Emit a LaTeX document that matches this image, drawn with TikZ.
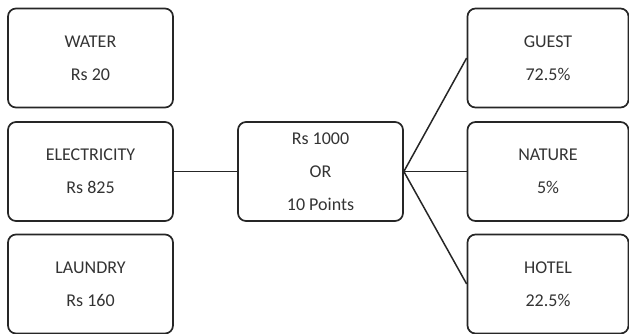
\documentclass[tikz,border=0pt]{standalone}
\usepackage{fontspec}
\setmainfont{Carlito}
\begin{document}
\begin{tikzpicture}[x=1pt,y=-1pt,
  box/.style={draw=black!85,line width=1.7pt,rounded corners=8pt,minimum width=165pt,minimum height=99pt,align=center,inner sep=0pt,font=\fontsize{18}{33}\selectfont,text=black!80},
  link/.style={draw=black!85,line width=1.5pt}]
\useasboundingbox (0,0) rectangle (629,333);
\node[box] (water) at (90.5,58) {WATER\\Rs 20};
\node[box] (elec) at (90.5,171.5) {ELECTRICITY\\Rs 825};
\node[box] (laundry) at (90.5,284) {LAUNDRY\\Rs 160};
\node[box] (center) at (320.5,171.5) {Rs 1000\\OR\\10 Points};
\node[box,minimum width=161pt] (guest) at (548,58) {GUEST\\72.5\%};
\node[box,minimum width=161pt] (nature) at (548,171.5) {NATURE\\5\%};
\node[box,minimum width=161pt] (hotel) at (548,284) {HOTEL\\22.5\%};
\draw[link] (elec.east) -- (center.west);
\draw[link] (center.east) -- (guest.west);
\draw[link] (center.east) -- (nature.west);
\draw[link] (center.east) -- (hotel.west);
\end{tikzpicture}
\end{document}
